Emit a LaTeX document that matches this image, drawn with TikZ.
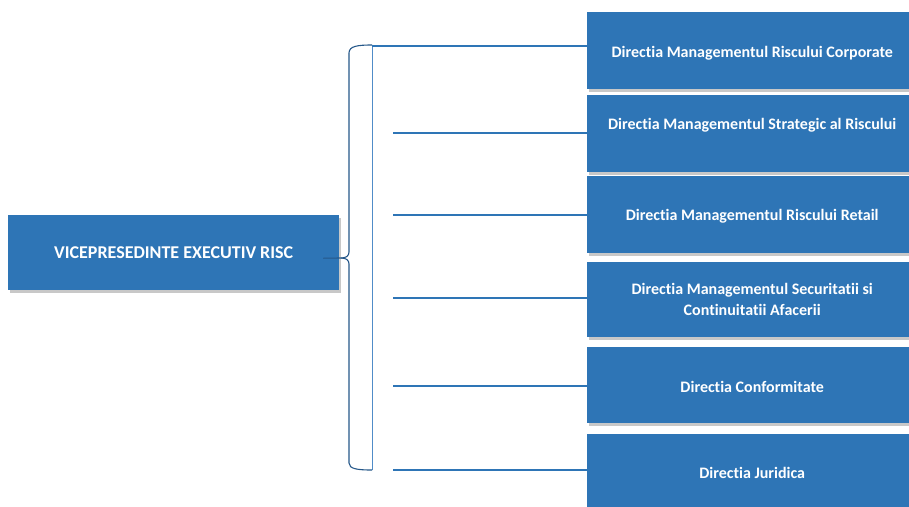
\documentclass[tikz,border=0pt]{standalone}
\usepackage{fontspec}
\setmainfont{Carlito}[Ligatures=NoCommon]
\usetikzlibrary{shadows}
\definecolor{boxblue}{RGB}{46,117,182}
\definecolor{lineblue}{RGB}{46,117,182}
\definecolor{bracedark}{RGB}{38,88,138}
\definecolor{bracelight}{RGB}{80,140,200}
\begin{document}
\begin{tikzpicture}[x=1pt,y=-1pt,
  boxbase/.style={fill=boxblue, text=white, inner sep=0pt, align=center, anchor=north west,
    drop shadow={shadow xshift=1.5pt, shadow yshift=-3pt, fill=black!70, opacity=0.3}},
  dbox/.style={boxbase, font=\bfseries\fontsize{16}{21}\selectfont, minimum width=330pt},
  lbox/.style={boxbase, font=\bfseries\fontsize{18}{20}\selectfont, minimum width=331pt, minimum height=75pt},
  conn/.style={draw=lineblue, line width=1.2pt},
  bracel/.style={draw=bracedark, line width=1.1pt},
  bracer/.style={draw=bracelight, line width=0.9pt}]
\useasboundingbox (0,0) rectangle (909,506);
\fill[white] (0,0) rectangle (909,506);

\node[lbox] (L) at (8,215) {VICEPRESEDINTE EXECUTIV RISC};

\node[dbox, minimum height=77pt, text height=17pt] (d1) at (587,12) {Directia Managementul Riscului Corporate};
\node[dbox, minimum height=77pt, text depth=20pt] (d2) at (587,95) {Directia Managementul Strategic al Riscului};
\node[dbox, minimum height=77pt, text height=15pt] (d3) at (587,176) {Directia Managementul Riscului Retail};
\node[dbox, minimum height=75pt] (d4) at (587,262) {Directia Managementul Securitatii si\\Continuitatii Afacerii};
\node[dbox, minimum height=76pt, text height=15pt] (d5) at (587,347) {Directia Conformitate};
\node[dbox, minimum height=77pt] (d6) at (587,434) {Directia Juridica};

% brace
\coordinate (tip) at ([xshift=-16pt,yshift=-5.5pt]L.east);
\coordinate (bt) at (372,45);
\coordinate (bb) at (372,470);
\draw[bracer] (bt) -- (bb);
\draw[bracel] (bt) .. controls (358,45) and (349,46) .. (349,53)
  -- (349,252) .. controls (349,256) and (346,258) .. (341,258) -- (tip);
\draw[bracel] (341,258) .. controls (346,258) and (349,260) .. (349,264)
  -- (349,463) .. controls (349,469) and (358,470) .. (bb);

% connectors
\coordinate (s1) at (372,46);
\coordinate (s2) at (393,133);
\coordinate (s3) at (393,215);
\coordinate (s4) at (393,298);
\coordinate (s5) at (393,386);
\coordinate (s6) at (393,470);
\draw[conn] (s1) -- (s1 -| d1.west);
\draw[conn] (s2) -- (s2 -| d2.west);
\draw[conn] (s3) -- (s3 -| d3.west);
\draw[conn] (s4) -- (s4 -| d4.west);
\draw[conn] (s5) -- (s5 -| d5.west);
\draw[conn] (s6) -- (s6 -| d6.west);
\end{tikzpicture}
\end{document}
